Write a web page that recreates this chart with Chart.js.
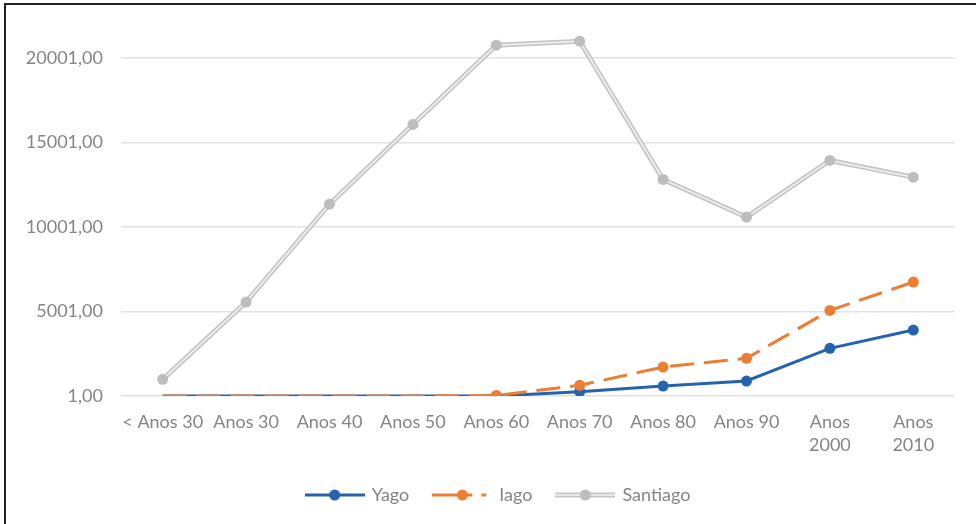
<!DOCTYPE html>
<html><head><meta charset="utf-8">
<script src="https://cdn.jsdelivr.net/npm/chart.js@4.4.0/dist/chart.umd.min.js"></script>
<style>
html,body{margin:0;padding:0;background:#fff;}
#wrap{position:relative;width:976px;height:524px;}
</style></head><body>
<div id="wrap"><canvas id="c" width="976" height="524"></canvas></div>
<script>
// Décadas e valores por grafia do nome
const categories = ['< Anos 30', 'Anos 30', 'Anos 40', 'Anos 50', 'Anos 60', 'Anos 70', 'Anos 80', 'Anos 90', ['Anos', '2000'], ['Anos', '2010']];
const yago = [1, 1, 1, 1, 1, 254, 592, 888, 2822, 3905];
const iago = [1, 1, 1, 1, 30, 633, 1716, 2230, 5070, 6745];
const santiago = [988, 5562, 11360, 16077, 20770, 21006, 12822, 10592, 13947, 12959];
const yTicks = [1, 5001, 10001, 15001, 20001];
const seriesNames = ['Yago', 'Iago', 'Santiago'];

const BLUE = '#2563AE', ORANGE = '#ED7D31', GREY = '#C6C6C6', GREY_PT = '#BDBDBD', GREY_IN = '#F3F3F3';
const FONT = 'Lato, "Open Sans", sans-serif';
const TXT = '#858585';

function fmt(v) { return v.toFixed(2).replace('.', ','); }

// markers only from "Anos 60" onwards for the two smaller series
const sparseRadius = ctx => (ctx.dataIndex < 4 ? 0 : 5.5);

// small line+marker swatches for the legend
function swatch(kind) {
  const c = document.createElement('canvas');
  c.width = 60; c.height = 14;
  const g = c.getContext('2d');
  const y = 7;
  if (kind === 'yago') {
    g.strokeStyle = BLUE; g.lineWidth = 3;
    g.beginPath(); g.moveTo(0, y); g.lineTo(60, y); g.stroke();
    g.fillStyle = BLUE; g.beginPath(); g.arc(30, y, 5.5, 0, Math.PI * 2); g.fill();
  } else if (kind === 'iago') {
    g.strokeStyle = ORANGE; g.lineWidth = 3;
    g.beginPath(); g.moveTo(0, y); g.lineTo(40, y); g.stroke();
    g.beginPath(); g.moveTo(49, y); g.lineTo(54, y); g.stroke();
    g.fillStyle = ORANGE; g.beginPath(); g.arc(30, y, 5.5, 0, Math.PI * 2); g.fill();
  } else {
    g.strokeStyle = GREY; g.lineWidth = 5;
    g.beginPath(); g.moveTo(0, y); g.lineTo(60, y); g.stroke();
    g.strokeStyle = GREY_IN; g.lineWidth = 1.5;
    g.beginPath(); g.moveTo(0, y); g.lineTo(60, y); g.stroke();
    g.fillStyle = GREY_PT; g.beginPath(); g.arc(30, y, 5.5, 0, Math.PI * 2); g.fill();
  }
  return c;
}
const swatches = [swatch('yago'), swatch('iago'), swatch('santiago')];

// frame lines along the top and left edges
const framePlugin = {
  id: 'frame',
  beforeDraw(chart) {
    const ctx = chart.ctx;
    ctx.save();
    ctx.fillStyle = '#ffffff';
    ctx.fillRect(0, 0, chart.width, chart.height);
    ctx.fillStyle = '#222222';
    ctx.fillRect(5, 3, chart.width - 5, 2);
    ctx.fillRect(4, 3, 2, chart.height - 3);
    ctx.restore();
  }
};

// centre the legend row under the plot area rather than the whole canvas
const legendShift = {
  id: 'legendShift',
  afterLayout(chart) {
    if (chart.legend) { chart.legend.left += 21; chart.legend.right += 21; }
  }
};

new Chart(document.getElementById('c'), {
  type: 'line',
  data: {
    labels: categories,
    datasets: [
      { label: 'Yago', data: yago, borderColor: BLUE, backgroundColor: BLUE, borderWidth: 3,
        pointRadius: sparseRadius, pointBackgroundColor: BLUE, pointBorderColor: BLUE, pointBorderWidth: 0, order: 4 },
      { label: 'Iago', data: iago, borderColor: ORANGE, backgroundColor: ORANGE, borderWidth: 3, borderDash: [24, 10],
        pointRadius: sparseRadius, pointBackgroundColor: ORANGE, pointBorderColor: ORANGE, pointBorderWidth: 0, order: 3 },
      { label: 'Santiago', data: santiago, borderColor: GREY, borderWidth: 5, pointRadius: 0, order: 2 },
      { label: 'Santiago-inner', data: santiago, borderColor: GREY_IN, borderWidth: 1.5, pointRadius: 0, order: 1 },
      { label: 'Santiago-points', data: santiago, showLine: false, pointRadius: 5.5,
        pointBackgroundColor: GREY_PT, pointBorderColor: GREY_PT, pointBorderWidth: 0, order: 0 }
    ]
  },
  options: {
    responsive: false,
    animation: false,
    devicePixelRatio: 1,
    layout: { padding: { left: 0, right: 21, top: 16, bottom: 10 } },
    plugins: {
      tooltip: { enabled: false },
      legend: {
        position: 'bottom',
        labels: {
          usePointStyle: true,
          pointStyleWidth: 56,
          padding: 25,
          color: TXT,
          font: { family: FONT, size: 18 },
          generateLabels() {
            return seriesNames.map((n, i) => ({
              text: n, pointStyle: swatches[i], datasetIndex: i,
              fillStyle: 'transparent', strokeStyle: 'transparent', lineWidth: 0, fontColor: TXT
            }));
          }
        }
      }
    },
    scales: {
      x: {
        offset: true,
        grid: { display: false, drawTicks: false, offset: true },
        border: { display: false },
        ticks: { color: TXT, font: { family: FONT, size: 18, lineHeight: 1.3 }, padding: 14, maxRotation: 0, autoSkip: false },
        afterFit(s) { s.height = 65; s.paddingLeft = 0; s.paddingRight = 0; }
      },
      y: {
        min: 1,
        max: 22500,
        afterBuildTicks(axis) { axis.ticks = yTicks.map(v => ({ value: v })); },
        grid: { color: '#E2E2E2', lineWidth: 1.5, drawTicks: false },
        border: { display: false },
        ticks: { color: TXT, font: { family: FONT, size: 18 }, padding: 18, callback: v => fmt(v) },
        afterFit(s) { s.width = 121; s.paddingTop = 0; s.paddingBottom = 0; }
      }
    }
  },
  plugins: [framePlugin, legendShift]
});
</script>
</body></html>
